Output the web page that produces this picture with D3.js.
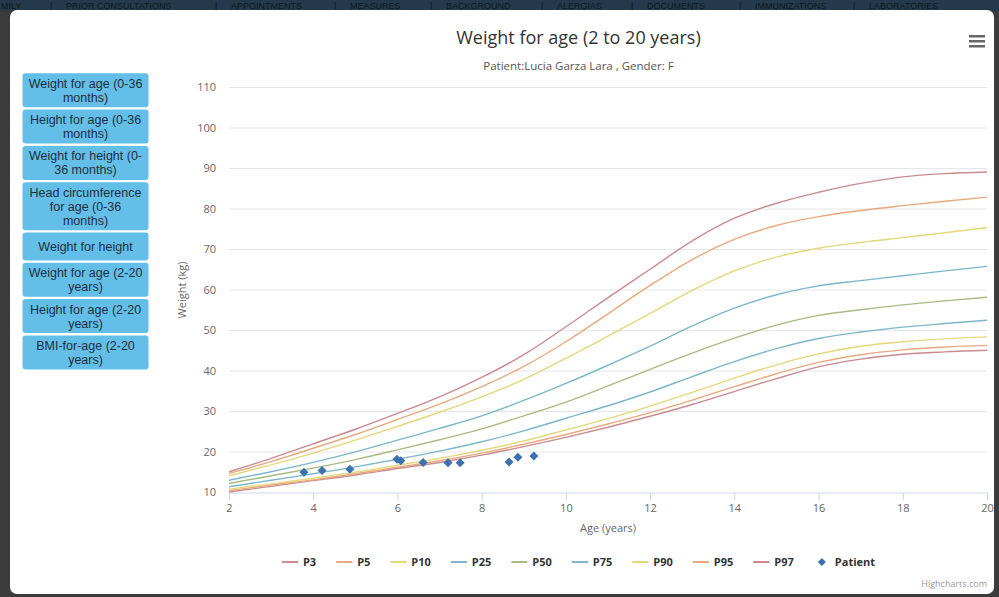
<!DOCTYPE html>
<html>
<head>
<meta charset="utf-8">
<script src="https://cdn.jsdelivr.net/npm/d3@7/dist/d3.min.js"></script>
<style>
  html,body{margin:0;padding:0;background:#3b3b3b;overflow:hidden;}
  svg{display:block;}
</style>
</head>
<body>
<svg id="chart" width="999" height="597"></svg>
<script>
// ---------------- DATA ----------------
const ages = [2,3,4,5,6,7,8,9,10,11,12,13,14,15,16,17,18,19,20];
const p3  = [10.0,11.4,12.8,14.2,15.8,17.3,19.1,21.2,23.5,26.0,28.7,31.6,34.8,38.0,40.9,42.8,44.0,44.6,45.0];
const p5  = [10.3,11.7,13.0,14.5,16.1,17.7,19.6,21.8,24.2,26.8,29.6,32.7,36.0,39.2,42.0,43.9,45.1,45.8,46.2];
const p10 = [10.7,12.0,13.4,14.9,16.6,18.3,20.3,22.6,25.3,28.1,31.2,34.6,38.1,41.4,44.1,46.0,47.1,47.8,48.3];
const p25 = [11.3,12.9,14.5,16.2,18.1,20.1,22.4,25.1,28.2,31.3,34.7,38.5,42.2,45.4,47.9,49.5,50.7,51.6,52.4];
const p50 = [12.1,14.0,15.9,18.0,20.4,22.9,25.6,28.8,32.2,36.2,40.3,44.3,48.0,51.2,53.6,55.0,56.2,57.2,58.1];
const p75 = [12.9,15.0,17.3,19.9,22.8,25.7,28.8,32.6,36.8,41.3,46.0,51.0,55.4,58.7,60.9,62.2,63.4,64.6,65.7];
const p90 = [14.0,16.7,19.6,22.8,26.2,29.7,33.5,37.8,43.0,48.5,54.1,59.8,64.6,68.0,70.2,71.6,72.8,74.0,75.3];
const p95 = [14.6,17.5,20.8,24.2,27.9,31.7,36.0,41.0,47.1,54.0,61.0,67.4,72.4,75.8,78.0,79.5,80.7,81.8,82.8];
const p97 = [15.0,18.3,21.9,25.5,29.4,33.5,38.3,43.9,50.8,58.0,65.0,72.0,77.6,81.3,84.0,86.2,87.8,88.6,89.0];

const seriesNames  = ["P3","P5","P10","P25","P50","P75","P90","P95","P97"];
const seriesValues = [p3,p5,p10,p25,p50,p75,p90,p95,p97];
const seriesColors = ["#c98b8f","#e8a97e","#e6d67c","#7db6cb","#a9bb82","#7db6cb","#e6d67c","#e8a97e","#c98b8f"];

const patientAges    = [3.78,4.21,4.87,5.99,6.08,6.61,7.20,7.49,8.65,8.86,9.24];
const patientWeights = [14.9,15.3,15.6,18.1,17.7,17.3,17.2,17.2,17.4,18.6,18.9];

const xTicks = [2,4,6,8,10,12,14,16,18,20];
const yTicks = [10,20,30,40,50,60,70,80,90,100,110];

const buttonLabels = [
  ["Weight for age (0-36","months)"],
  ["Height for age (0-36","months)"],
  ["Weight for height (0-","36 months)"],
  ["Head circumference","for age (0-36","months)"],
  ["Weight for height"],
  ["Weight for age (2-20","years)"],
  ["Height for age (2-20","years)"],
  ["BMI-for-age (2-20","years)"]
];
const navItems = ["MILY","PRIOR CONSULTATIONS","APPOINTMENTS","MEASURES","BACKGROUND","ALERGIAS","DOCUMENTS","IMMUNIZATIONS","LABORATORIES"];

const titleText = "Weight for age (2 to 20 years)";
const subtitleText = "Patient:Lucia Garza Lara , Gender: F";

// ---------------- DRAW ----------------
const svg = d3.select("#chart");
const FONT = "'Open Sans', 'DejaVu Sans', sans-serif";

// page behind the modal
svg.append("rect").attr("x",0).attr("y",0).attr("width",999).attr("height",597).attr("fill","#3b3b3b");
svg.append("rect").attr("x",0).attr("y",0).attr("width",999).attr("height",11).attr("fill","#24394b");
const navX = [1,66,231,350,446,557,647,755,869];
const navG = svg.append("g");
navItems.forEach((t,i)=>{
  navG.append("text").attr("x",navX[i]).attr("y",9).text(t)
    .attr("font-family","'Liberation Sans', Arial, sans-serif").attr("font-size",9)
    .attr("fill","#0e1a24");
  if(i>0) navG.append("text").attr("x",navX[i]-16).attr("y",9).text("|")
    .attr("font-family","'Liberation Sans', Arial, sans-serif").attr("font-size",9).attr("fill","#0e1a24");
});
// modal
svg.append("rect").attr("x",10).attr("y",10).attr("width",984).attr("height",584)
  .attr("rx",7).attr("fill","#ffffff");

// left buttons
const btnG = svg.append("g");
let by = 73.3;
buttonLabels.forEach(lines=>{
  const h = lines.length===1 ? 28 : 6 + 14*lines.length;
  btnG.append("rect").attr("x",22.5).attr("y",by).attr("width",126).attr("height",h)
    .attr("rx",3).attr("fill","#63bfe8");
  const cy = by + h/2;
  const t = btnG.append("text").attr("text-anchor","middle")
    .attr("font-family","'Liberation Sans', Arial, sans-serif").attr("font-size",12.5)
    .attr("fill","#1f2e3c");
  lines.forEach((ln,j)=>{
    t.append("tspan").attr("x",85.5).attr("y", cy - (lines.length-1)*7 + j*14 + 4.5).text(ln);
  });
  by += h + 2.3;
});

// plot scales
const x = d3.scaleLinear().domain([2,20]).range([229,987]);
const y = d3.scaleLinear().domain([10,110]).range([492,87]);

// gridlines
svg.append("g").selectAll("line").data(yTicks.filter(v=>v>10)).join("line")
  .attr("x1",229).attr("x2",987).attr("y1",d=>y(d)+0.5).attr("y2",d=>y(d)+0.5)
  .attr("stroke","#e6e6e6").attr("stroke-width",1);

// y axis labels
const yAxis = svg.append("g").attr("transform","translate(216,0)")
  .call(d3.axisLeft(y).tickValues(yTicks).tickSize(0).tickPadding(0));
yAxis.select(".domain").remove();
yAxis.selectAll("text").attr("font-family",FONT).attr("font-size",11).attr("fill","#666666");

// x axis
const xAxis = svg.append("g").attr("transform","translate(0,492.5)")
  .call(d3.axisBottom(x).tickValues(xTicks).tickSize(8).tickPadding(4).tickSizeOuter(0));
xAxis.select(".domain").attr("stroke","#ccd6eb");
xAxis.selectAll(".tick line").attr("stroke","#ccd6eb");
xAxis.selectAll("text").attr("font-family",FONT).attr("font-size",11).attr("fill","#666666");

// axis titles
svg.append("text").attr("x",608).attr("y",532).attr("text-anchor","middle")
  .attr("font-family",FONT).attr("font-size",11).attr("fill","#666666").text("Age (years)");
svg.append("text").attr("transform","translate(186,290) rotate(-90)").attr("text-anchor","middle")
  .attr("font-family",FONT).attr("font-size",11).attr("fill","#666666").text("Weight (kg)");

// percentile lines
const line = d3.line().x((d,i)=>x(ages[i])).y(d=>y(d)).curve(d3.curveMonotoneX);
const linesG = svg.append("g");
seriesValues.forEach((vals,k)=>{
  linesG.append("path").attr("d",line(vals)).attr("fill","none")
    .attr("stroke",seriesColors[k]).attr("stroke-width",1.4);
});

// patient markers
const diamond = (cx,cy,r)=>`M${cx},${cy-r}L${cx+r},${cy}L${cx},${cy+r}L${cx-r},${cy}Z`;
svg.append("g").selectAll("path").data(patientAges).join("path")
  .attr("d",(d,i)=>diamond(x(d),y(patientWeights[i]),4.5))
  .attr("fill","#3d70ae");

// title / subtitle
svg.append("text").attr("x",578.5).attr("y",44).attr("text-anchor","middle")
  .attr("font-family",FONT).attr("font-size",18).attr("fill","#333333").text(titleText);
svg.append("text").attr("x",578.5).attr("y",70).attr("text-anchor","middle")
  .attr("font-family",FONT).attr("font-size",11.5).attr("fill","#555555").text(subtitleText);

// menu icon
[0,5,10].forEach(o=>{
  svg.append("rect").attr("x",969).attr("y",35+o).attr("width",16).attr("height",2.5).attr("fill","#666666");
});

// legend
const legG = svg.append("g");
const items = seriesNames.map((n,k)=>({name:n,color:seriesColors[k],type:"line"}))
  .concat([{name:"Patient",color:"#3d70ae",type:"marker"}]);
const ly = 566;
let lx = 0;
const placed = [];
items.forEach(it=>{
  const g = legG.append("g");
  if(it.type==="line"){
    g.append("line").attr("x1",0).attr("x2",16).attr("y1",-4).attr("y2",-4)
      .attr("stroke",it.color).attr("stroke-width",2);
  } else {
    g.append("path").attr("d",diamond(8,-4,4)).attr("fill",it.color);
  }
  const t = g.append("text").attr("x",21).attr("y",0).text(it.name)
    .attr("font-family",FONT).attr("font-size",11).attr("font-weight","bold").attr("fill","#333333");
  const w = 21 + t.node().getComputedTextLength();
  placed.push({g,lx});
  lx += w + 20;
});
const totalW = lx - 20;
const startX = 578.5 - totalW/2;
placed.forEach(p=>p.g.attr("transform",`translate(${startX+p.lx},${ly})`));

// credits
svg.append("text").attr("x",987).attr("y",587).attr("text-anchor","end")
  .attr("font-family",FONT).attr("font-size",9).attr("fill","#999999").text("Highcharts.com");
</script>
</body>
</html>
